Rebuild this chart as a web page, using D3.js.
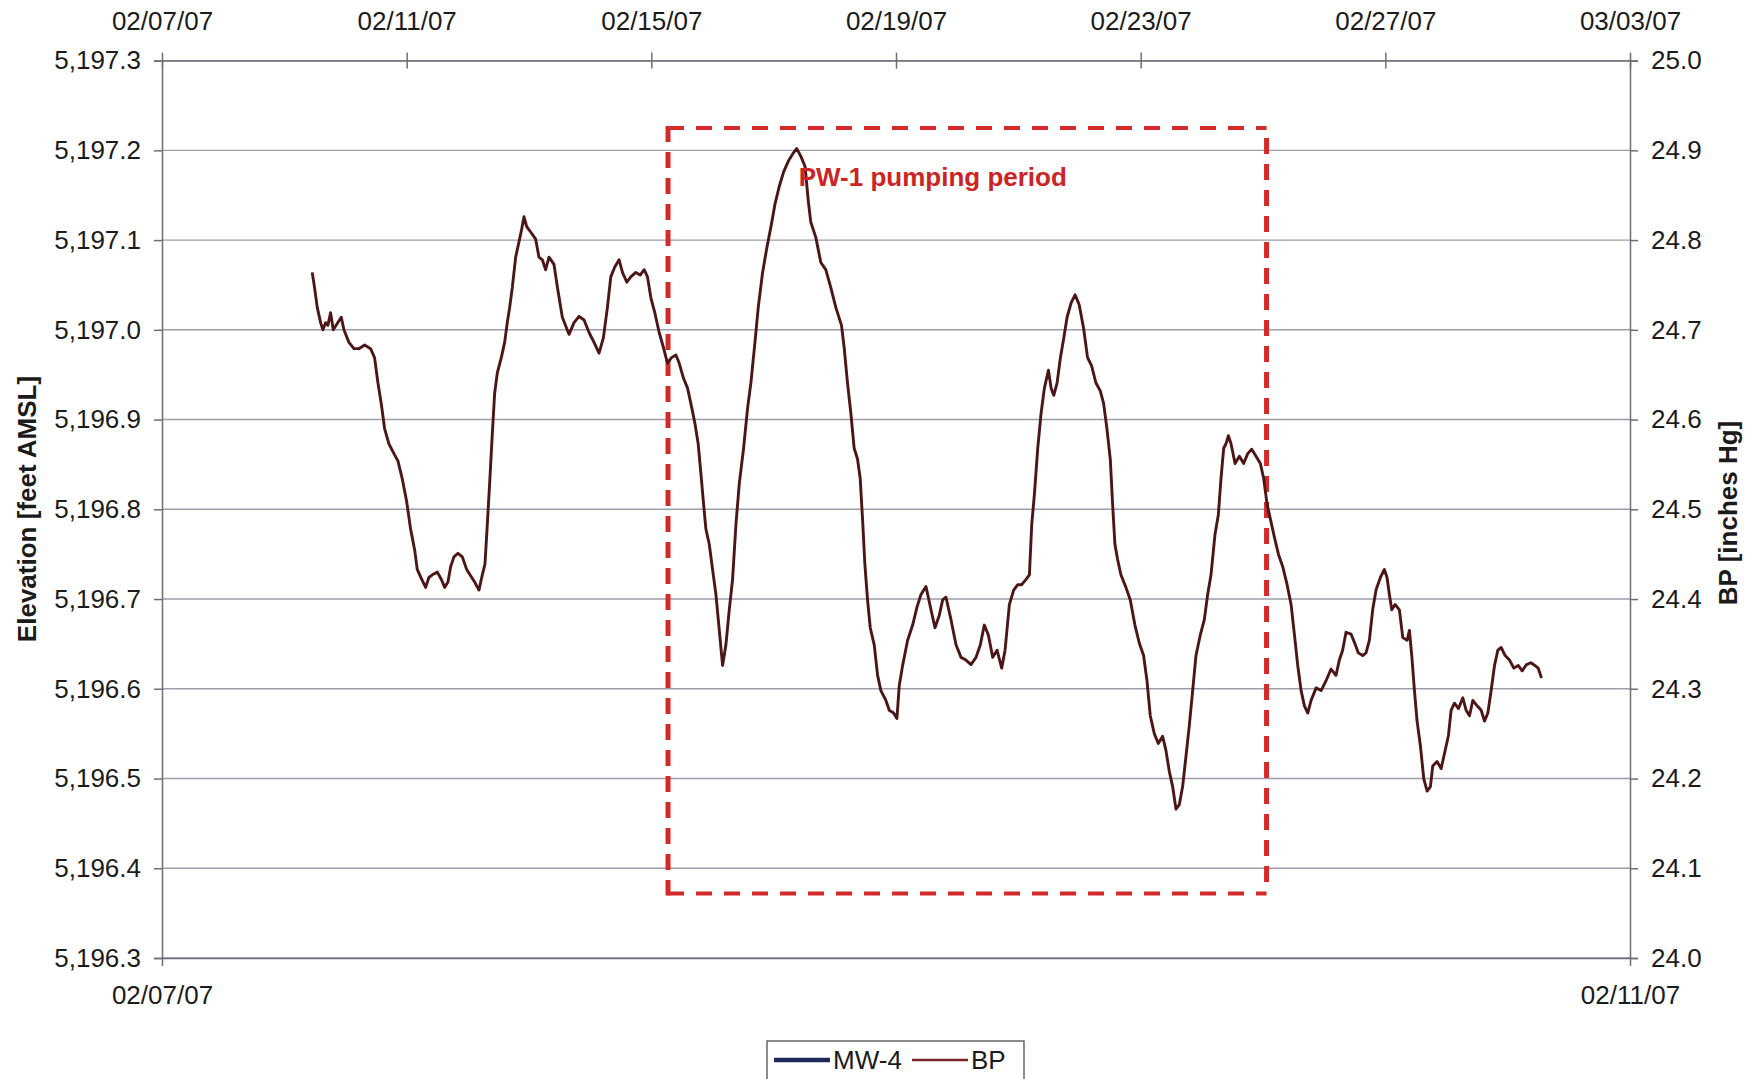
<!DOCTYPE html>
<html>
<head>
<meta charset="utf-8">
<script src="https://cdn.jsdelivr.net/npm/d3@7"></script>
<style>
  html, body { margin: 0; padding: 0; background: #ffffff; }
  svg { display: block; }
  text { font-family: "Liberation Sans", Arial, Helvetica, sans-serif; }
</style>
</head>
<body>
<svg id="chart" width="1759" height="1079"></svg>
<script>
// ---------------- DATA ----------------
// Time of each BP reading, in days after 02/07/07 00:00
const bpDays = [
  2.456,2.494,2.538,2.593,2.631,2.674,2.712,2.756,2.800,2.865,2.931,2.974,3.056,3.138,3.219,3.312,3.410,3.475,3.530,3.584,
  3.639,3.710,3.792,3.857,3.928,3.999,4.064,4.130,4.173,4.239,4.310,4.364,4.419,4.501,4.566,4.621,4.675,4.719,4.773,4.839,
  4.910,4.981,5.046,5.111,5.182,5.237,5.280,5.318,5.356,5.400,5.438,5.482,5.547,5.602,5.645,5.684,5.727,5.782,5.836,5.880,
  5.918,5.962,6.027,6.109,6.163,6.218,6.272,6.327,6.408,6.463,6.545,6.654,6.736,6.818,6.900,6.982,7.063,7.145,7.216,7.282,
  7.337,7.402,7.473,7.528,7.599,7.664,7.746,7.817,7.883,7.937,7.992,8.057,8.128,8.199,8.264,8.330,8.401,8.455,8.526,8.592,
  8.646,8.712,8.766,8.810,8.854,8.892,8.947,9.001,9.056,9.110,9.165,9.219,9.274,9.328,9.383,9.437,9.508,9.574,9.628,9.694,
  9.748,9.819,9.890,9.956,10.021,10.092,10.163,10.240,10.311,10.376,10.447,10.513,10.567,10.607,10.689,10.771,10.852,10.934,11.016,11.109,
  11.153,11.207,11.262,11.316,11.371,11.415,11.453,11.491,11.535,11.579,11.644,11.699,11.753,11.835,11.890,11.961,12.015,12.054,12.108,12.190,
  12.272,12.343,12.409,12.490,12.572,12.637,12.708,12.763,12.817,12.899,12.981,13.063,13.144,13.226,13.308,13.379,13.444,13.510,13.581,13.652,
  13.728,13.783,13.854,13.924,13.990,14.055,14.126,14.181,14.219,14.263,14.317,14.372,14.426,14.492,14.536,14.579,14.634,14.688,14.743,14.797,
  14.863,14.928,14.995,15.066,15.132,15.197,15.268,15.339,15.394,15.448,15.503,15.541,15.579,15.623,15.677,15.759,15.830,15.906,15.977,16.048,
  16.103,16.157,16.223,16.288,16.359,16.414,16.468,16.523,16.577,16.632,16.686,16.741,16.795,16.850,16.904,16.975,17.041,17.095,17.150,17.215,
  17.270,17.313,17.357,17.395,17.434,17.477,17.543,17.614,17.684,17.750,17.815,17.886,17.957,18.012,18.066,18.121,18.186,18.252,18.323,18.394,
  18.459,18.514,18.568,18.623,18.677,18.732,18.786,18.868,18.950,19.031,19.112,19.193,19.248,19.302,19.357,19.439,19.493,19.559,19.630,19.684,
  19.739,19.793,19.848,19.919,19.984,20.028,20.066,20.105,20.159,20.230,20.285,20.356,20.394,20.432,20.476,20.519,20.574,20.628,20.683,20.737,
  20.775,20.846,20.912,20.977,21.032,21.075,21.130,21.196,21.267,21.321,21.376,21.430,21.501,21.567,21.621,21.676,21.730,21.785,21.839,21.894,
  21.959,22.030,22.101,22.172,22.237,22.308,22.379,22.444,22.499,22.553
];
// BP readings [inches Hg]
const bpValues = [
  24.764,24.747,24.725,24.708,24.700,24.708,24.705,24.719,24.700,24.707,24.714,24.700,24.686,24.679,24.679,24.683,24.679,24.669,24.641,24.618,
  24.590,24.573,24.562,24.554,24.534,24.509,24.478,24.455,24.433,24.423,24.413,24.424,24.427,24.430,24.422,24.413,24.419,24.436,24.447,24.451,
  24.447,24.433,24.426,24.419,24.410,24.427,24.439,24.483,24.528,24.584,24.629,24.652,24.669,24.686,24.708,24.725,24.747,24.781,24.798,24.812,
  24.826,24.815,24.809,24.801,24.781,24.778,24.767,24.781,24.773,24.748,24.714,24.695,24.708,24.715,24.711,24.697,24.686,24.674,24.691,24.725,
  24.759,24.770,24.778,24.764,24.753,24.759,24.764,24.761,24.767,24.759,24.736,24.719,24.697,24.680,24.663,24.669,24.672,24.663,24.646,24.635,
  24.618,24.596,24.573,24.540,24.506,24.478,24.461,24.433,24.405,24.366,24.326,24.349,24.388,24.422,24.483,24.528,24.568,24.613,24.641,24.686,
  24.725,24.764,24.792,24.815,24.840,24.860,24.876,24.888,24.896,24.902,24.893,24.882,24.843,24.820,24.803,24.775,24.767,24.747,24.725,24.705,
  24.680,24.641,24.607,24.568,24.556,24.534,24.489,24.439,24.399,24.368,24.349,24.315,24.298,24.287,24.276,24.273,24.267,24.304,24.326,24.354,
  24.371,24.391,24.405,24.414,24.388,24.368,24.382,24.399,24.402,24.377,24.349,24.335,24.332,24.327,24.335,24.349,24.371,24.360,24.335,24.343,
  24.323,24.343,24.394,24.410,24.416,24.416,24.422,24.427,24.483,24.517,24.568,24.607,24.635,24.655,24.635,24.627,24.641,24.669,24.691,24.714,
  24.730,24.739,24.728,24.702,24.669,24.660,24.641,24.632,24.618,24.590,24.556,24.506,24.461,24.444,24.427,24.413,24.399,24.371,24.351,24.337,
  24.309,24.270,24.250,24.239,24.247,24.231,24.208,24.191,24.166,24.171,24.191,24.225,24.259,24.298,24.337,24.360,24.377,24.405,24.427,24.472,
  24.494,24.534,24.568,24.573,24.582,24.573,24.551,24.559,24.551,24.562,24.567,24.559,24.551,24.534,24.506,24.489,24.469,24.450,24.436,24.416,
  24.394,24.360,24.326,24.298,24.281,24.273,24.287,24.301,24.298,24.309,24.322,24.315,24.332,24.343,24.363,24.361,24.352,24.340,24.337,24.340,
  24.354,24.388,24.410,24.424,24.433,24.424,24.405,24.388,24.394,24.388,24.357,24.354,24.365,24.337,24.298,24.264,24.236,24.200,24.186,24.191,
  24.214,24.219,24.211,24.231,24.248,24.276,24.284,24.278,24.290,24.276,24.270,24.287,24.281,24.276,24.264,24.273,24.298,24.326,24.343,24.346,
  24.337,24.332,24.323,24.326,24.320,24.327,24.329,24.326,24.323,24.312
];
const mw4Values = [];   // MW-4 has no visible data in this chart

const leftTicks  = [5196.3,5196.4,5196.5,5196.6,5196.7,5196.8,5196.9,5197.0,5197.1,5197.2,5197.3];
const rightTicks = [24.0,24.1,24.2,24.3,24.4,24.5,24.6,24.7,24.8,24.9,25.0];
const topTickDates    = ["2007-02-07","2007-02-11","2007-02-15","2007-02-19","2007-02-23","2007-02-27","2007-03-03"];
const bottomTickDates = ["2007-02-07","2007-02-11"];
const topDomain    = ["2007-02-07","2007-03-03"];
const bottomDomain = ["2007-02-07","2007-02-11"];
// Pumping period box: start/end (days after 02/07/07) and BP top/bottom
const pumpStartDay = 8.273, pumpEndDay = 18.058;
const pumpTopBP = 24.925, pumpBottomBP = 24.072;
const pumpLabel = "PW-1 pumping period";
const pumpLabelDay = 10.41, pumpLabelBP = 24.860;
const legendNames = ["MW-4", "BP"];
const leftTitle = "Elevation [feet AMSL]";
const rightTitle = "BP [inches Hg]";

// ---------------- DRAW ----------------
const parseDay = d3.timeParse("%Y-%m-%d");
const base = parseDay("2007-02-07");
const toDate = d => new Date(base.getTime() + d * 86400000);

const L = 162, R = 1630, T = 60.6, B = 958;
const FONT = 26;

const svg = d3.select("#chart");

const x = d3.scaleTime().domain(topDomain.map(parseDay)).range([L, R]);
const x2 = d3.scaleTime().domain(bottomDomain.map(parseDay)).range([L, R]);
const yL = d3.scaleLinear().domain([5196.3, 5197.3]).range([B, T]);
const yR = d3.scaleLinear().domain([24.0, 25.0]).range([B, T]);

const fmtDate = d3.timeFormat("%m/%d/%y");

// gridlines
svg.append("g").selectAll("line").data(leftTicks).join("line")
  .attr("x1", L).attr("x2", R)
  .attr("y1", d => yL(d)).attr("y2", d => yL(d))
  .attr("stroke", "#9d9dab").attr("stroke-width", 1.4);

// left axis
const leftAxis = svg.append("g").attr("transform", `translate(${L},0)`)
  .call(d3.axisLeft(yL).tickValues(leftTicks).tickFormat(d3.format(",.1f")).tickSize(8).tickPadding(13));
// right axis
const rightAxis = svg.append("g").attr("transform", `translate(${R},0)`)
  .call(d3.axisRight(yR).tickValues(rightTicks).tickFormat(d3.format(".1f")).tickSize(8).tickPadding(13));
// top axis (ticks crossing the axis line)
const topAxis = svg.append("g").attr("transform", `translate(0,${T})`)
  .call(d3.axisTop(x).tickValues(topTickDates.map(parseDay)).tickFormat(fmtDate).tickSizeInner(8).tickSizeOuter(0).tickPadding(23));
topAxis.selectAll(".tick line").attr("y1", 8).attr("y2", -8);
// bottom axis
const bottomAxis = svg.append("g").attr("transform", `translate(0,${B})`)
  .call(d3.axisBottom(x2).tickValues(bottomTickDates.map(parseDay)).tickFormat(fmtDate).tickSizeInner(8).tickSizeOuter(0).tickPadding(20));

[leftAxis, rightAxis, topAxis, bottomAxis].forEach(g => {
  g.select(".domain").attr("stroke", "#6e6e78").attr("stroke-width", 1.5);
  g.selectAll(".tick line").attr("stroke", "#6e6e78").attr("stroke-width", 1.5);
  g.selectAll(".tick text").attr("font-size", FONT).attr("fill", "#1b1b1b")
    .attr("font-family", "'Liberation Sans', Arial, sans-serif");
});
bottomAxis.selectAll(".tick text").attr("dy", "0.71em");

// pumping period dashed box
const bx1 = x(toDate(pumpStartDay)), bx2 = x(toDate(pumpEndDay));
const by1 = yR(pumpTopBP), by2 = yR(pumpBottomBP);
const boxG = svg.append("g").attr("stroke", "#d42a2a").attr("fill", "none");
boxG.append("line").attr("x1", bx1).attr("x2", bx2).attr("y1", by1).attr("y2", by1)
  .attr("stroke-width", 4).attr("stroke-dasharray", "16,12");
boxG.append("line").attr("x1", bx1).attr("x2", bx2).attr("y1", by2).attr("y2", by2)
  .attr("stroke-width", 4).attr("stroke-dasharray", "16,12");
boxG.append("line").attr("x1", bx1).attr("x2", bx1).attr("y1", by1 - 2).attr("y2", by2 + 2)
  .attr("stroke-width", 5).attr("stroke-dasharray", "16,10");
boxG.append("line").attr("x1", bx2).attr("x2", bx2).attr("y1", by1 + 10).attr("y2", by2 - 8)
  .attr("stroke-width", 5).attr("stroke-dasharray", "16,10");

// BP line
const bpData = bpDays.map((d, i) => ({ t: toDate(d), v: bpValues[i] }));
svg.append("path").datum(bpData)
  .attr("fill", "none").attr("stroke", "#4d1616").attr("stroke-width", 2.9)
  .attr("stroke-linejoin", "round")
  .attr("d", d3.line().x(d => x(d.t)).y(d => yR(d.v)));

// MW-4 line (no data)
svg.append("path").datum(mw4Values.map((v, i) => ({ i, v })))
  .attr("fill", "none").attr("stroke", "#1f2a5c").attr("stroke-width", 4)
  .attr("d", d3.line().x(d => d.i).y(d => yL(d.v)));

// pumping label
svg.append("text").attr("x", x(toDate(pumpLabelDay))).attr("y", yR(pumpLabelBP))
  .attr("font-size", FONT).attr("font-weight", "bold").attr("fill", "#cc2424")
  .text(pumpLabel);

// axis titles
svg.append("text").attr("transform", "translate(36,509) rotate(-90)")
  .attr("text-anchor", "middle").attr("font-size", FONT).attr("font-weight", "bold").attr("fill", "#1b1b1b")
  .text(leftTitle);
svg.append("text").attr("transform", "translate(1737,513) rotate(-90)")
  .attr("text-anchor", "middle").attr("font-size", FONT).attr("font-weight", "bold").attr("fill", "#1b1b1b")
  .text(rightTitle);

// legend
const lg = svg.append("g");
lg.append("rect").attr("x", 767).attr("y", 1041).attr("width", 257).attr("height", 50)
  .attr("fill", "#fff").attr("stroke", "#505050").attr("stroke-width", 1.3);
const legendColors = ["#1f2a5c", "#7a2626"];
const legendWidths = [4.5, 2.5];
const legendX = [774, 912];
legendNames.forEach((name, i) => {
  lg.append("line").attr("x1", legendX[i]).attr("x2", legendX[i] + 56).attr("y1", 1060).attr("y2", 1060)
    .attr("stroke", legendColors[i]).attr("stroke-width", legendWidths[i]);
  lg.append("text").attr("x", legendX[i] + 59).attr("y", 1069)
    .attr("font-size", FONT).attr("fill", "#1b1b1b").text(name);
});
</script>
</body>
</html>
